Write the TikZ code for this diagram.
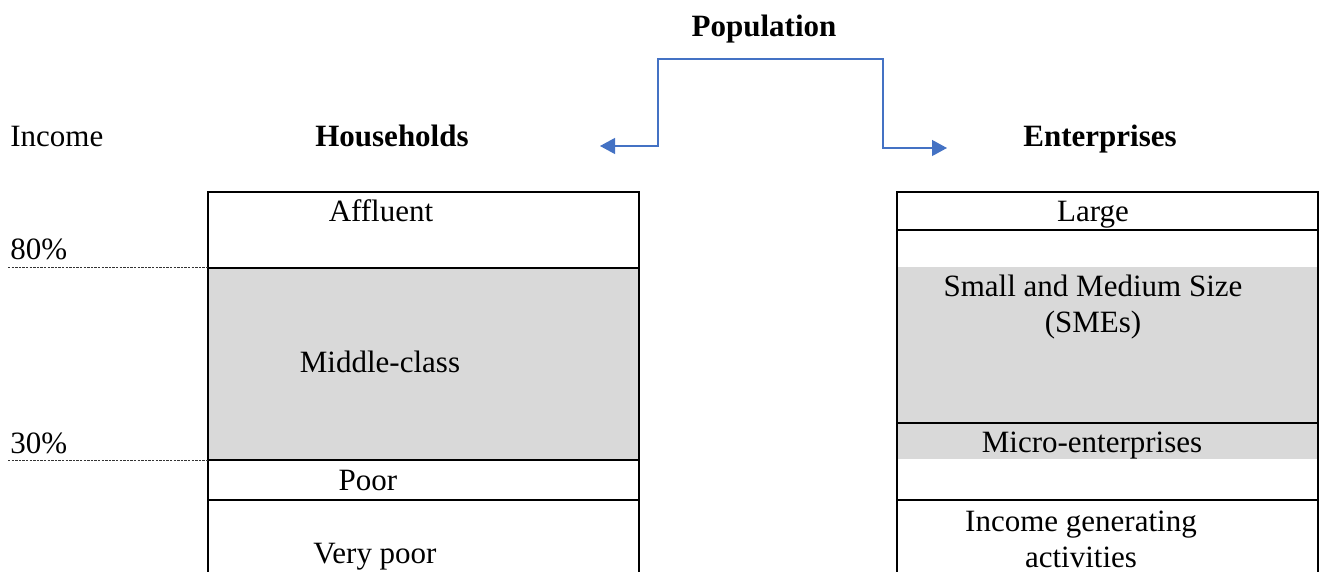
\documentclass[tikz,border=0pt]{standalone}
\usepackage{fontspec}
\setmainfont{Liberation Serif}
\usetikzlibrary{arrows.meta}
\definecolor{conncol}{HTML}{4472C4}
\definecolor{shade}{HTML}{D9D9D9}
\tikzset{
  txt/.style={inner sep=0pt, anchor=base, font=\fontsize{15.5}{18}\selectfont},
  btxt/.style={txt, font=\fontsize{15.5}{18}\selectfont\bfseries},
  conn/.style={draw=conncol, line width=0.6pt, -{Triangle[length=7.5pt,width=8pt]}},
  boxline/.style={line width=1pt, black},
  guide/.style={line width=0.5pt, black!80, dash pattern=on 1.2pt off 0.6pt},
  band/.style={fill=shade, draw=none}
}
\begin{document}
\begin{tikzpicture}[x=0.5pt,y=-0.5pt]
\useasboundingbox (0,0) rectangle (1323,572);

% headings
\node[btxt] (pop) at (764,37) {Population};
\node[txt, anchor=base west] (inc) at (10,147) {Income};
\node[btxt] (hh) at (392,147) {Households};
\node[btxt] (ent) at (1100,147) {Enterprises};

% connector
\coordinate (top) at (770,59);
\coordinate (tl) at (658,59);
\coordinate (tr) at (883,59);
\coordinate (la) at (600,146);
\coordinate (ra) at (947,148);
\draw[conn] (top) -- (tl) |- (la);
\draw[conn] (top) -- (tr) |- (ra);

% left column (households)
\fill[band] (208,268) rectangle (639,460);
\draw[boxline] (208,572) -- (208,192) -- (639,192) -- (639,572);
\draw[boxline] (208,268) -- (639,268);
\draw[boxline] (208,460) -- (639,460);
\draw[boxline] (208,500) -- (639,500);
\draw[guide] (8,268) -- (208,268);
\draw[guide] (8,460) -- (208,460);

\node[txt, anchor=base west] (p80) at (10,260) {80\%};
\node[txt, anchor=base west] (p30) at (10,453) {30\%};
\node[txt] (aff) at (381,222) {Affluent};
\node[txt] (mid) at (380,372) {Middle-class};
\node[txt] (poor) at (368,490) {Poor};
\node[txt] (vpoor) at (375,563) {Very poor};

% right column (enterprises)
\fill[band] (897,267) rectangle (1318,459);
\draw[boxline] (897,572) -- (897,192) -- (1318,192) -- (1318,572);
\draw[boxline] (897,230) -- (1318,230);
\draw[boxline] (897,423) -- (1318,423);
\draw[boxline] (897,500) -- (1318,500);

\node[txt] (large) at (1093,222) {Large};
\node[txt, align=center] (sme) at (1093,333) {Small and Medium Size\\(SMEs)};
\node[txt] (micro) at (1092,452) {Micro-enterprises};
\node[txt, align=center] (iga) at (1081,567) {Income generating\\activities};
\end{tikzpicture}
\end{document}
